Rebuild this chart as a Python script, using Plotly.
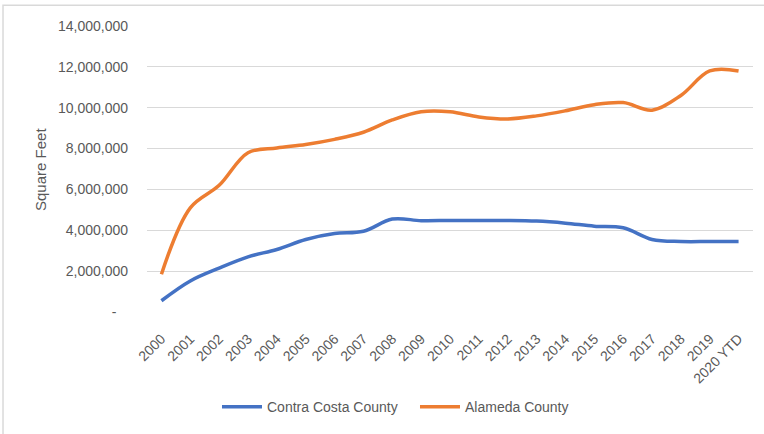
import plotly.graph_objects as go

years = ["2000", "2001", "2002", "2003", "2004", "2005", "2006", "2007", "2008", "2009",
         "2010", "2011", "2012", "2013", "2014", "2015", "2016", "2017", "2018", "2019",
         "2020 YTD"]
contra_costa = [550000, 1520000, 2150000, 2700000, 3060000, 3550000, 3840000, 3950000,
                4550000, 4470000, 4480000, 4480000, 4480000, 4450000, 4350000, 4200000,
                4120000, 3550000, 3450000, 3450000, 3450000]
alameda = [1850000, 5100000, 6200000, 7800000, 8030000, 8200000, 8450000, 8800000,
           9400000, 9800000, 9800000, 9550000, 9450000, 9600000, 9850000, 10150000,
           10250000, 9880000, 10600000, 11800000, 11800000]
y_ticks = [0, 2000000, 4000000, 6000000, 8000000, 10000000, 12000000, 14000000]
y_tick_text = ["-\u00a0\u00a0\u00a0"] + [f"{v:,}" for v in y_ticks[1:]]

FONT = "Liberation Sans, Arial, sans-serif"
GREY = "#595959"

fig = go.Figure()
fig.add_trace(go.Scatter(x=years, y=contra_costa, name="Contra Costa County", mode="lines",
                         line=dict(color="#4472C4", width=3.5, shape="spline")))
fig.add_trace(go.Scatter(x=years, y=alameda, name="Alameda County", mode="lines",
                         line=dict(color="#ED7D31", width=3.5, shape="spline")))

fig.update_layout(
    width=764, height=434,
    margin=dict(l=147, r=11, t=26, b=120),
    paper_bgcolor="white", plot_bgcolor="white",
    font=dict(family=FONT, size=14, color=GREY),
    showlegend=True,
    legend=dict(orientation="h", x=0.1155, xanchor="left", y=-0.333, yanchor="middle",
                font=dict(family=FONT, size=14, color=GREY), itemwidth=40,
                entrywidth=143, entrywidthmode="pixels"),
    xaxis=dict(type="category", range=[-0.5, len(years) - 0.5], tickangle=-45,
               showgrid=False, ticks="", showline=False, zeroline=False,
               ticklabelstandoff=15, tickfont=dict(family=FONT, size=14, color=GREY)),
    yaxis=dict(range=[0, 14000000], tickvals=y_ticks, ticktext=y_tick_text,
               showgrid=True, gridcolor="#D9D9D9", gridwidth=1, zeroline=False,
               showline=False, ticks="", ticklabelstandoff=18,
               tickfont=dict(family=FONT, size=14, color=GREY)),
    annotations=[dict(text="Square Feet", xref="paper", yref="paper", x=-0.1766, y=0.5,
                      textangle=-90, showarrow=False, xanchor="center", yanchor="middle",
                      font=dict(family=FONT, size=15, color=GREY))],
    shapes=[dict(type="rect", xref="paper", yref="paper", x0=-0.2376, y0=-0.6,
                 x1=1.2, y1=1.0729, line=dict(color="#D9D9D9", width=1.5),
                 fillcolor="rgba(0,0,0,0)", layer="below")],
)

fig.write_html("out.html")
